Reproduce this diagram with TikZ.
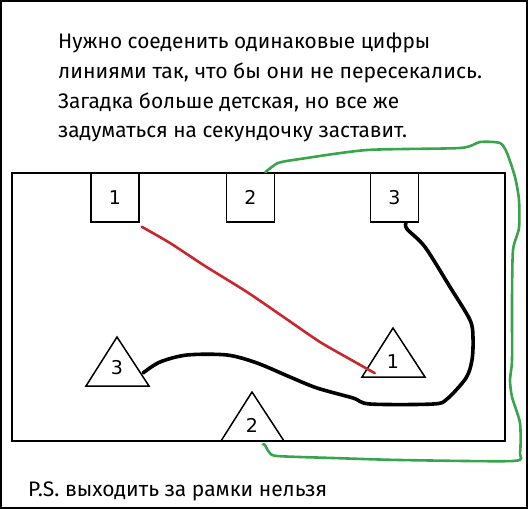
\documentclass[tikz,border=0pt]{standalone}
\usepackage{fontspec}
\setmainfont{Fira Sans}
\newfontfamily\numfont{DejaVu Sans}
\usetikzlibrary{calc}
\begin{document}
\begin{tikzpicture}[x=1pt,y=-1pt,
  frame/.style={draw=black,line width=1.6pt},
  numbox/.style={draw=black,line width=1.5pt,minimum width=48pt,minimum height=49pt,inner sep=0pt,font=\numfont\fontsize{19}{19}\selectfont},
  tri/.style={draw=black,line width=1.5pt,line join=miter},
  numlabel/.style={inner sep=0pt,font=\numfont\fontsize{19}{19}\selectfont},
  txt/.style={anchor=base west,inner sep=0pt,font=\fontsize{21}{21}\selectfont},
  redline/.style={draw={rgb,255:red,200;green,40;blue,45},line width=2.6pt,line cap=round,line join=round},
  blackline/.style={draw=black,line width=3.6pt,line cap=round,line join=round},
  greenline/.style={draw={rgb,255:red,55;green,165;blue,75},line width=2.6pt,line cap=round,line join=round}]
\useasboundingbox (0,0) rectangle (528,509);
\fill[white] (0,0) rectangle (528,509);
\draw[line width=1.8pt] (0.9,0.9) rectangle (527.1,508.1);
% texts
\node[txt] (t1) at (58,48) {\resizebox{372pt}{\height}{Нужно соеденить одинаковые цифры}};
\node[txt] (t2) at (58,78) {\resizebox{424pt}{\height}{линиями так, что бы они не пересекались.}};
\node[txt] (t3) at (58,108) {\resizebox{341pt}{\height}{Загадка больше детская, но все же}};
\node[txt] (t4) at (58,137) {\resizebox{349pt}{\height}{задуматься на секундочку заставит.}};
\node[txt] (ps) at (28,496) {\resizebox{299pt}{\height}{P.S. выходить за рамки нельзя}};
% inner frame
\draw[frame] (12,173) rectangle (505,441);
% boxes
\node[numbox] (s1) at (115,197.5) {1};
\node[numbox] (s2) at (250.5,197.5) {2};
\node[numbox] (s3) at (394.5,197.5) {3};
% triangles
\draw[tri] (117,337) coordinate (t3top) -- (149,386) -- (86,386) -- cycle;
\node[numlabel] (n3) at (117,368) {3};
\draw[tri] (393,328) coordinate (t1top) -- (425,377) -- (362,377) -- cycle;
\node[numlabel] (n1) at (393,362) {1};
\draw[tri] (252,392) coordinate (t2top) -- (284,441) -- (221,441) -- cycle;
\node[numlabel] (n2) at (252,425) {2};
% connectors
\coordinate (r1) at ($(s1.south east)+(2,4)$);
\coordinate (r2) at ($(n1.south west)+(-12,4)$);
\draw[redline] plot[smooth,tension=0.4] coordinates {(r1) (170,243) (205,266) (247,292) (285,318) (320,342) (355,362) (r2)};
\coordinate (b1) at ($(s3.south)+(11.5,0)$);
\coordinate (b2) at (143,373);
\draw[blackline] plot[smooth,tension=0.5] coordinates {(b1) (407,229) (425,247) (450,287) (470,320) (473,338) (472,360) (466,378) (447,399) (433,404) (370,404) (353,398) (317,388) (290,377) (257,363) (227,355) (187,355) (160,362) (b2)};
\coordinate (g1) at ($(s2.north east)+(-10,0)$);
\coordinate (g2) at ($(n2.south)+(11,12)$);
\draw[greenline] plot[smooth,tension=0.4] coordinates {(g1) (278,163) (300,159) (367,150) (460,148) (480,142) (500,143) (507,153) (515,177) (519,200) (519,228) (513,250) (512,300) (512,360) (510,380) (512,397) (520,423) (520,453) (513,461) (400,460) (333,458) (277,456) (269,452) (265,445) (g2)};
\end{tikzpicture}
\end{document}
